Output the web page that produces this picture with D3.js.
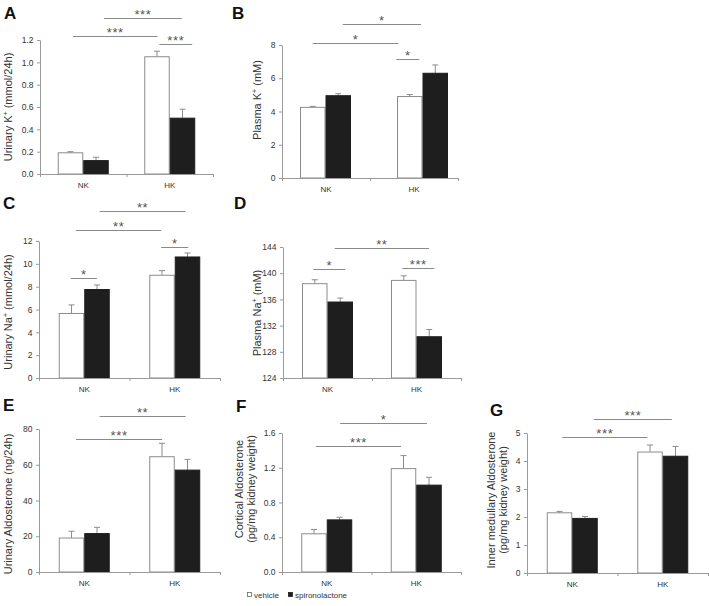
<!DOCTYPE html>
<html><head><meta charset="utf-8">
<script src="https://cdn.jsdelivr.net/npm/d3@7"></script>
<style>
body{margin:0;background:#fff}
svg{display:block}
text{font-family:"Liberation Sans",Arial,Helvetica,sans-serif}
</style>
</head><body>
<svg id="chart" width="709" height="606"></svg>
<script>
// ---------- DATA ----------
const categories = ["NK", "HK"];
const series = ["vehicle", "spironolactone"];

// Panel A: Urinary K+ (mmol/24h)
const urinaryK_vehicle = [0.19, 1.05];
const urinaryK_vehicle_err = [0.01, 0.05];
const urinaryK_spiro = [0.12, 0.50];
const urinaryK_spiro_err = [0.03, 0.08];
const urinaryK_ticks = [0, 0.2, 0.4, 0.6, 0.8, 1.0, 1.2];

// Panel B: Plasma K+ (mM)
const plasmaK_vehicle = [4.25, 4.90];
const plasmaK_vehicle_err = [0.06, 0.12];
const plasmaK_spiro = [4.95, 6.30];
const plasmaK_spiro_err = [0.12, 0.50];
const plasmaK_ticks = [0, 2, 4, 6, 8];

// Panel C: Urinary Na+ (mmol/24h)
const urinaryNa_vehicle = [5.65, 9.0];
const urinaryNa_vehicle_err = [0.75, 0.4];
const urinaryNa_spiro = [7.75, 10.6];
const urinaryNa_spiro_err = [0.4, 0.35];
const urinaryNa_ticks = [0, 2, 4, 6, 8, 10, 12];

// Panel D: Plasma Na+ (mM)
const plasmaNa_vehicle = [138.4, 138.9];
const plasmaNa_vehicle_err = [0.6, 0.7];
const plasmaNa_spiro = [135.6, 130.3];
const plasmaNa_spiro_err = [0.6, 1.1];
const plasmaNa_ticks = [124, 128, 132, 136, 140, 144];

// Panel E: Urinary Aldosterone (ng/24h)
const urinaryAldo_vehicle = [19, 64.5];
const urinaryAldo_vehicle_err = [3.8, 7.5];
const urinaryAldo_spiro = [21.5, 57];
const urinaryAldo_spiro_err = [3.5, 6];
const urinaryAldo_ticks = [0, 20, 40, 60, 80];

// Panel F: Cortical Aldosterone (pg/mg kidney weight)
const corticalAldo_vehicle = [0.44, 1.19];
const corticalAldo_vehicle_err = [0.05, 0.15];
const corticalAldo_spiro = [0.60, 1.00];
const corticalAldo_spiro_err = [0.03, 0.09];
const corticalAldo_ticks = [0, 0.4, 0.8, 1.2, 1.6];

// Panel G: Inner medullary Aldosterone (pg/mg kidney weight)
const imAldo_vehicle = [2.15, 4.32];
const imAldo_vehicle_err = [0.05, 0.25];
const imAldo_spiro = [1.95, 4.17];
const imAldo_spiro_err = [0.07, 0.35];
const imAldo_ticks = [0, 1, 2, 3, 4, 5];

// Significance annotations: span in category units (0..2), level in data units
const sigA = [{a:0.74,b:1.64,level:1.397,label:"***"},{a:0.38,b:1.36,level:1.236,label:"***"},{a:1.38,b:1.76,level:1.164,label:"***"}];
const sigB = [{a:0.69,b:1.58,level:9.26,label:"*"},{a:0.35,b:1.32,level:8.12,label:"*"},{a:1.30,b:1.56,level:7.16,label:"*"}];
const sigC = [{a:0.67,b:1.62,level:14.63,label:"**"},{a:0.41,b:1.35,level:12.96,label:"**"},{a:1.35,b:1.65,level:11.47,label:"*"},{a:0.35,b:0.64,level:8.76,label:"*"}];
const sigD = [{a:0.58,b:1.64,level:143.85,label:"**"},{a:0.34,b:0.70,level:140.64,label:"*"},{a:1.34,b:1.70,level:140.8,label:"***"}];
const sigE = [{a:0.67,b:1.62,level:87.3,label:"**"},{a:0.41,b:1.36,level:74.4,label:"***"}];
const sigF = [{a:0.65,b:1.62,level:1.715,label:"*"},{a:0.38,b:1.33,level:1.45,label:"***"}];
const sigG = [{a:0.74,b:1.60,level:5.5,label:"***"},{a:0.39,b:1.33,level:4.857,label:"***"}];

// ---------- LAYOUT ----------
const panels = [
  {letter:"A", lx:4, ly:19, x0:40, x1:213, yt:40, yb:174, domain:[0,1.2], ticks:urinaryK_ticks, fmt:d3.format(".1f"),
   vals:[urinaryK_vehicle, urinaryK_spiro], errs:[urinaryK_vehicle_err, urinaryK_spiro_err], sig:sigA,
   title:[["Urinary K","+"," (mmol/24h)"]], tx:8, ty:107},
  {letter:"B", lx:232, ly:19, x0:282, x1:458, bx0:277, bx1:471, yt:45, yb:178, domain:[0,8], ticks:plasmaK_ticks, fmt:d3.format("d"),
   vals:[plasmaK_vehicle, plasmaK_spiro], errs:[plasmaK_vehicle_err, plasmaK_spiro_err], sig:sigB,
   title:[["Plasma K","+"," (mM)"]], tx:257, ty:100},
  {letter:"C", lx:3, ly:209, x0:39, x1:220, yt:241, yb:378, domain:[0,12], ticks:urinaryNa_ticks, fmt:d3.format("d"),
   vals:[urinaryNa_vehicle, urinaryNa_spiro], errs:[urinaryNa_vehicle_err, urinaryNa_spiro_err], sig:sigC,
   title:[["Urinary Na","+"," (mmol/24h)"]], tx:8, ty:312},
  {letter:"D", lx:234, ly:209, x0:283, x1:461, yt:247, yb:378, domain:[124,144], ticks:plasmaNa_ticks, fmt:d3.format("d"),
   vals:[plasmaNa_vehicle, plasmaNa_spiro], errs:[plasmaNa_vehicle_err, plasmaNa_spiro_err], sig:sigD,
   title:[["Plasma Na","+"," (mM)"]], tx:257, ty:313},
  {letter:"E", lx:3, ly:411, x0:39, x1:220, yt:429, yb:572, domain:[0,80], ticks:urinaryAldo_ticks, fmt:d3.format("d"),
   vals:[urinaryAldo_vehicle, urinaryAldo_spiro], errs:[urinaryAldo_vehicle_err, urinaryAldo_spiro_err], sig:sigE,
   title:[["Urinary Aldosterone (ng/24h)"]], tx:8, ty:504},
  {letter:"F", lx:236, ly:412, x0:282, x1:461, yt:433, yb:572, domain:[0,1.6], ticks:corticalAldo_ticks, fmt:d3.format(".1f"),
   vals:[corticalAldo_vehicle, corticalAldo_spiro], errs:[corticalAldo_vehicle_err, corticalAldo_spiro_err], sig:sigF,
   title:[["Cortical Aldosterone"],["(pg/mg kidney weight)"]], tx:244, ty:489},
  {letter:"G", lx:490, ly:416, x0:527, x1:708, yt:433, yb:573, domain:[0,5], ticks:imAldo_ticks, fmt:d3.format("d"),
   vals:[imAldo_vehicle, imAldo_spiro], errs:[imAldo_vehicle_err, imAldo_spiro_err], sig:sigG,
   title:[["Inner medullary Aldosterone"],["(pg/mg kidney weight)"]], tx:496, ty:500}
];

const AXIS = "#9a9a9a", OUTLINE = "#8c8c8c", BLACK = "#1e1e1e", SIGLINE = "#8a8a8a", STAR = "#555", TXT = "#333";
const barW = 25.5;

const svg = d3.select("#chart");

panels.forEach(p => {
  const g = svg.append("g");
  const y = d3.scaleLinear().domain(p.domain).range([p.yb, p.yt]);
  const xb = d3.scaleBand().domain(categories).range([p.bx0 ?? p.x0, p.bx1 ?? p.x1]);
  const xl = d3.scaleBand().domain(categories).range([p.x0, p.x1]);
  const xs = d3.scaleBand().domain(series).range([-barW, barW]);
  const xc = d3.scaleLinear().domain([0, 2]).range([p.x0, p.x1]);

  const rows = [];
  categories.forEach((c, ci) => series.forEach((s, si) => rows.push({c, s, si, v: p.vals[si][ci], e: p.errs[si][ci]})));
  const cx = d => xb(d.c) + xb.bandwidth() / 2 + xs(d.s);

  // error bars (upper only)
  const eg = g.append("g");
  eg.selectAll("line.v").data(rows).join("line")
    .attr("x1", d => cx(d) + xs.bandwidth() / 2).attr("x2", d => cx(d) + xs.bandwidth() / 2)
    .attr("y1", d => y(d.v)).attr("y2", d => y(d.v + d.e))
    .attr("stroke", OUTLINE).attr("stroke-width", 1);
  eg.selectAll("line.c").data(rows).join("line")
    .attr("x1", d => cx(d) + xs.bandwidth() / 2 - 3).attr("x2", d => cx(d) + xs.bandwidth() / 2 + 3)
    .attr("y1", d => y(d.v + d.e)).attr("y2", d => y(d.v + d.e))
    .attr("stroke", OUTLINE).attr("stroke-width", 1);

  // bars
  g.append("g").selectAll("rect").data(rows).join("rect")
    .attr("x", d => cx(d) + 0.5).attr("width", xs.bandwidth() - 1)
    .attr("y", d => y(d.v)).attr("height", d => y(p.domain[0]) - y(d.v))
    .attr("fill", d => d.si === 0 ? "#fff" : BLACK)
    .attr("stroke", d => d.si === 0 ? OUTLINE : BLACK).attr("stroke-width", 1);

  // y axis
  const ya = g.append("g").attr("transform", `translate(${p.x0},0)`)
    .call(d3.axisLeft(y).tickValues(p.ticks).tickFormat(p.fmt).tickSize(3).tickSizeOuter(0));
  ya.attr("font-family", '"Liberation Sans",Arial,sans-serif');
  ya.select(".domain").attr("stroke", AXIS);
  ya.selectAll(".tick line").attr("stroke", AXIS);
  ya.selectAll(".tick text").attr("fill", TXT).attr("font-size", 8.5).attr("x", -6.5);

  // x axis
  const xa = g.append("g").attr("transform", `translate(0,${p.yb})`)
    .call(d3.axisBottom(xc).tickValues([0, 1, 2]).tickFormat("").tickSize(3).tickSizeOuter(0));
  xa.select(".domain").attr("stroke", AXIS);
  xa.selectAll(".tick line").attr("stroke", AXIS);
  g.append("g").selectAll("text").data(categories).join("text")
    .attr("x", d => xl(d) + xl.bandwidth() / 2).attr("y", p.yb + 14)
    .attr("text-anchor", "middle").attr("font-size", 8).attr("fill", TXT).text(d => d);

  // significance
  const sg = g.append("g");
  sg.selectAll("line").data(p.sig).join("line")
    .attr("x1", d => xc(d.a)).attr("x2", d => xc(d.b))
    .attr("y1", d => Math.round(y(d.level)) + 0.5).attr("y2", d => Math.round(y(d.level)) + 0.5)
    .attr("stroke", SIGLINE).attr("stroke-width", 1);
  sg.selectAll("text").data(p.sig).join("text")
    .attr("x", d => (xc(d.a) + xc(d.b)) / 2).attr("y", d => y(d.level) + 1)
    .attr("text-anchor", "middle").attr("font-size", 13).attr("letter-spacing", 0.6)
    .attr("fill", STAR).text(d => d.label);

  // title
  const t = g.append("text").attr("transform", `translate(${p.tx},${p.ty}) rotate(-90)`)
    .attr("text-anchor", "middle").attr("font-size", 11).attr("fill", TXT);
  p.title.forEach((line, li) => {
    const ts = t.append("tspan").attr("x", 0).attr("dy", li === 0 ? (p.title.length > 1 ? -1 : 4) : 11.5);
    ts.text(line[0]);
    if (line.length > 1) {
      t.append("tspan").attr("font-size", 7).attr("dy", -4).text(line[1]);
      t.append("tspan").attr("dy", 4).text(line[2]);
    }
  });

  // panel letter
  svg.append("text").attr("x", p.lx).attr("y", p.ly).attr("font-size", 17).attr("font-weight", "bold")
    .attr("fill", "#111").text(p.letter);
});

// legend
const leg = svg.append("g").attr("transform", "translate(247,598)");
const legItems = leg.selectAll("g").data(series).join("g")
  .attr("transform", (d, i) => `translate(${i === 0 ? 0 : 41},0)`);
legItems.append("rect").attr("x", 0.5).attr("y", -5.5).attr("width", 4).attr("height", 4)
  .attr("fill", (d, i) => i === 0 ? "#fff" : BLACK).attr("stroke", (d, i) => i === 0 ? "#666" : BLACK).attr("stroke-width", 0.8);
legItems.append("text").attr("x", 7).attr("y", 0).attr("font-size", 8).attr("fill", TXT).text(d => d);
</script>
</body></html>
